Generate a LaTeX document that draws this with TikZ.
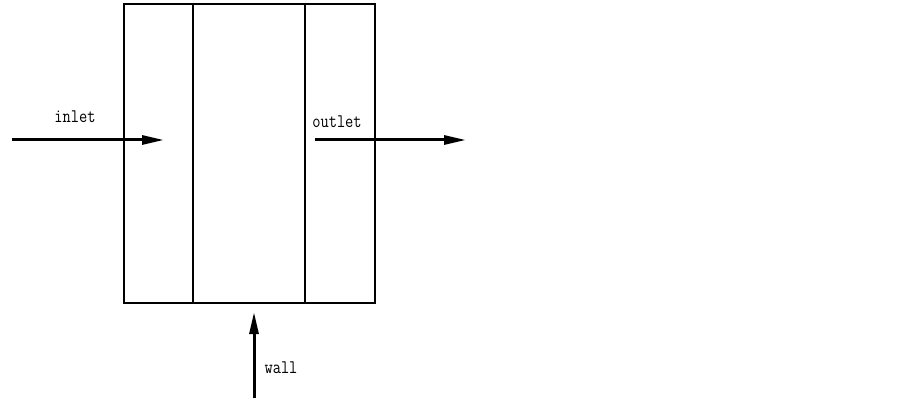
\documentclass[tikz,border=0pt]{standalone}
\usetikzlibrary{arrows.meta}
\begin{document}
\begin{tikzpicture}[x=1pt,y=-1pt,
  wallline/.style={line width=1.6pt,black},
  flow/.style={line width=3pt,-{Triangle[length=22pt,width=9pt]}},
  lbl/.style={inner sep=0pt,font=\ttfamily\fontsize{16}{16}\selectfont}]
\useasboundingbox (0,0) rectangle (903,401);
\node[draw,wallline,minimum width=251pt,minimum height=299pt,inner sep=0pt] (box) at (249.5,153.5) {};
\coordinate (t1) at (193,4); \coordinate (b1) at (193,303);
\coordinate (t2) at (305,4); \coordinate (b2) at (305,303);
\draw[wallline] (t1) -- (b1);
\draw[wallline] (t2) -- (b2);
\coordinate (inS) at (12,140); \coordinate (inE) at (164,140);
\coordinate (outS) at (315,140); \coordinate (outE) at (466,140);
\coordinate (wS) at (254,398); \coordinate (wE) at (254,312);
\draw[flow] (inS) -- (inE);
\draw[flow] (outS) -- (outE);
\draw[flow] (wS) -- (wE);
\node[lbl] (inlet) at (75,117) {\scalebox{1}[1.2]{inlet}};
\node[lbl] (outlet) at (337,122) {\scalebox{1}[1.2]{outlet}};
\node[lbl] (wall) at (281,368) {\scalebox{1}[1.2]{wall}};
\end{tikzpicture}
\end{document}
